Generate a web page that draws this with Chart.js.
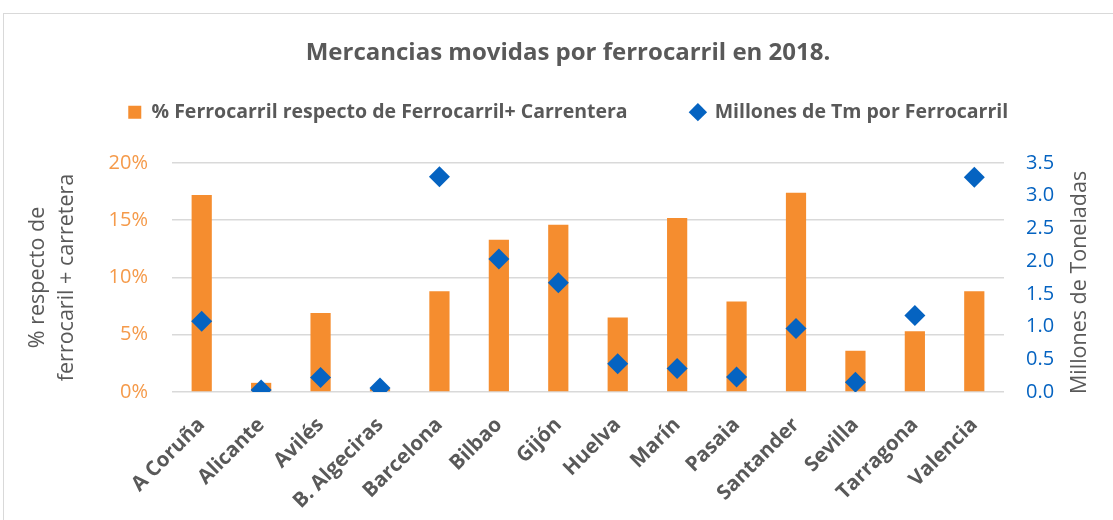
<!DOCTYPE html>
<html>
<head>
<meta charset="utf-8">
<script src="https://cdn.jsdelivr.net/npm/chart.js@4.4.1/dist/chart.umd.min.js"></script>
<style>
  html, body { margin: 0; padding: 0; background: #fff; overflow: hidden; }
  #frame {
    position: absolute; left: 3px; top: 13px;
    width: 1130px; height: 520px;
    border: 1px solid #d9d9d9; box-sizing: border-box;
  }
</style>
</head>
<body>
<div id="frame"><canvas id="chart"></canvas></div>
<script>
// Mercancias movidas por ferrocarril en 2018 - bars (%) + diamonds (millones Tm)
const puertos = ['A Coruña', 'Alicante', 'Avilés', 'B. Algeciras', 'Barcelona', 'Bilbao', 'Gijón',
    'Huelva', 'Marín', 'Pasaia', 'Santander', 'Sevilla', 'Tarragona', 'Valencia'];

// % ferrocarril respecto de ferrocarril + carretera
const pctFerrocarril = [17.2, 0.8, 6.9, 0.3, 8.8, 13.3, 14.6, 6.5, 15.2, 7.9, 17.4, 3.6, 5.3, 8.8];

// millones de toneladas por ferrocarril
const millonesTm = [1.08, 0.03, 0.22, 0.06, 3.29, 2.03, 1.67, 0.43, 0.36, 0.23, 0.97, 0.15, 1.17, 3.28];

const leftTicks = [0, 5, 10, 15, 20];
const rightTicks = [0, 0.5, 1, 1.5, 2, 2.5, 3, 3.5];

const GRAY = '#595959';
const ORANGE = '#F58D2F';
const BLUE = '#0563C1';
const FONT = '"Open Sans"';

// extra space under the legend, and the right-axis title (reads bottom to top)
const layoutPlugin = {
    id: 'layoutTweaks',
    beforeInit: function (chart) {
        const legend = chart.legend;
        const origFit = legend.fit;
        legend.fit = function () {
            origFit.call(this);
            this.height += 31;
        };
    },
    afterDraw: function (chart) {
        const ctx = chart.ctx;
        const area = chart.chartArea;
        ctx.save();
        ctx.translate(1076, (area.top + area.bottom) / 2 + 5);
        ctx.rotate(-Math.PI / 2);
        ctx.font = '21.5px ' + FONT;
        ctx.fillStyle = GRAY;
        ctx.textAlign = 'center';
        ctx.textBaseline = 'middle';
        ctx.fillText('Millones de Toneladas', 0, 0);
        ctx.restore();
    }
};

new Chart(document.getElementById('chart'), {
    type: 'bar',
    data: {
        labels: puertos,
        datasets: [
            {
                label: '% Ferrocarril respecto de Ferrocarril+ Carrentera',
                data: pctFerrocarril,
                backgroundColor: ORANGE,
                barPercentage: 0.34,
                categoryPercentage: 1,
                yAxisID: 'y',
                pointStyle: 'rect',
                order: 1
            },
            {
                type: 'line',
                label: 'Millones de Tm por Ferrocarril',
                data: millonesTm,
                showLine: false,
                pointStyle: 'rectRot',
                pointRadius: 10.5,
                pointHoverRadius: 10.5,
                pointBackgroundColor: BLUE,
                pointBorderColor: BLUE,
                pointBorderWidth: 0,
                backgroundColor: BLUE,
                borderColor: BLUE,
                yAxisID: 'y1',
                order: 0
            }
        ]
    },
    options: {
        responsive: true,
        maintainAspectRatio: false,
        animation: false,
        layout: { padding: 0 },
        plugins: {
            title: {
                display: true,
                text: 'Mercancias movidas por ferrocarril en 2018.',
                color: GRAY,
                font: { family: FONT, size: 24, weight: 'bold', lineHeight: 1.2 },
                padding: { top: 24.6, bottom: 1 }
            },
            legend: {
                position: 'top',
                labels: {
                    usePointStyle: true,
                    boxWidth: 14,
                    boxHeight: 13,
                    padding: 34,
                    color: GRAY,
                    font: { family: FONT, size: 19.5, weight: 'bold' },
                    sort: function (a, b) { return a.datasetIndex - b.datasetIndex; },
                    generateLabels: function (chart) {
                        const items = Chart.defaults.plugins.legend.labels.generateLabels(chart);
                        items.forEach(function (it) {
                            it.lineWidth = 0;
                            if (it.datasetIndex === 0) { it.text = it.text + '\u2003\u2002'; }
                        });
                        return items;
                    }
                }
            },
            tooltip: { enabled: false }
        },
        scales: {
            x: {
                grid: { display: false },
                border: { display: false },
                ticks: {
                    autoSkip: false,
                    minRotation: 45,
                    maxRotation: 45,
                    padding: 13,
                    color: GRAY,
                    font: { family: FONT, size: 20.5, weight: 'bold' }
                },
                afterFit: function (scale) { scale.height = 140; }
            },
            y: {
                position: 'left',
                min: 0,
                max: 20,
                afterBuildTicks: function (scale) {
                    scale.ticks = leftTicks.map(function (v) { return { value: v }; });
                },
                grid: { color: '#d9d9d9', lineWidth: 1.5, drawTicks: false },
                border: { display: false },
                ticks: {
                    padding: 24,
                    color: '#F59A4A',
                    font: { family: FONT, size: 20 },
                    callback: function (v) { return v + '%'; }
                },
                title: {
                    display: true,
                    text: ['% respecto de', 'ferrocaril + carretera'],
                    color: GRAY,
                    font: { family: FONT, size: 21.5, lineHeight: 1.35 },
                    padding: { top: 19.5, bottom: 0 }
                },
                afterFit: function (scale) { scale.width = 168; }
            },
            y1: {
                position: 'right',
                min: 0,
                max: 3.5,
                afterBuildTicks: function (scale) {
                    scale.ticks = rightTicks.map(function (v) { return { value: v }; });
                },
                grid: { display: false, drawTicks: false },
                border: { display: false },
                ticks: {
                    padding: 22,
                    color: BLUE,
                    font: { family: FONT, size: 20 },
                    callback: function (v) { return v.toFixed(1); }
                },
                afterFit: function (scale) { scale.width = 128; }
            }
        }
    },
    plugins: [layoutPlugin]
});
</script>
</body>
</html>
